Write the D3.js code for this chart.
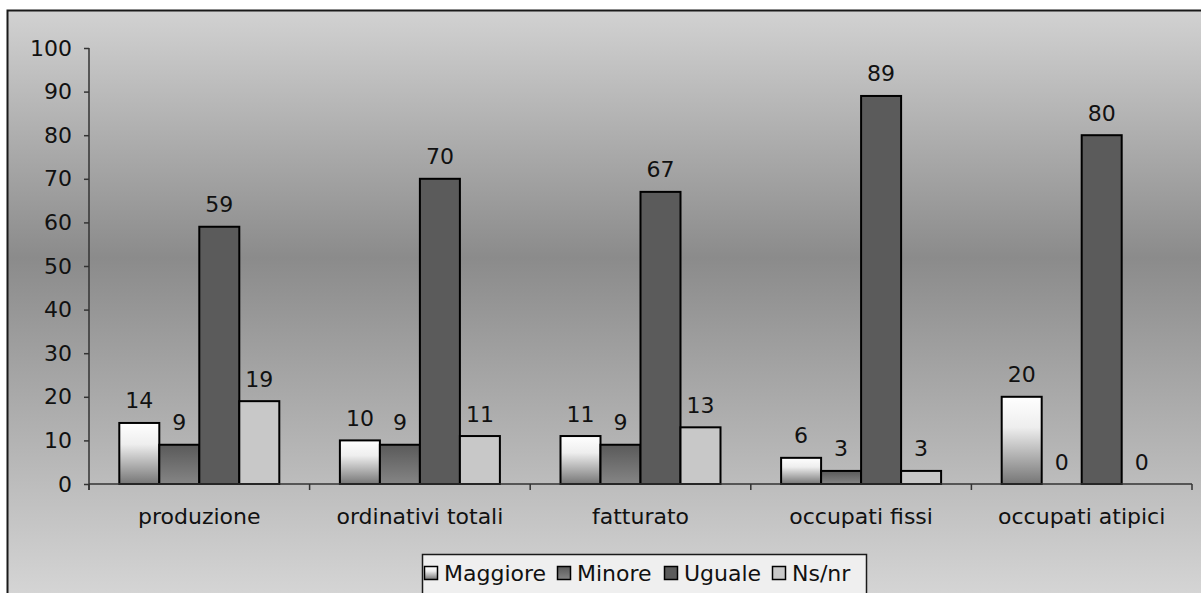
<!DOCTYPE html>
<html>
<head>
<meta charset="utf-8">
<script src="https://cdn.jsdelivr.net/npm/d3@7"></script>
<style>
  html, body { margin: 0; padding: 0; background: #ffffff; }
  svg { display: block; }
  text { font-family: "DejaVu Sans", Verdana, sans-serif; fill: #111; }
</style>
</head>
<body>
<svg id="chart" width="1201" height="593"></svg>
<script>
// Chart data
const categories = ["produzione", "ordinativi totali", "fatturato", "occupati fissi", "occupati atipici"];
const seriesNames = ["Maggiore", "Minore", "Uguale", "Ns/nr"];
const maggiore = [14, 10, 11, 6, 20];
const minore   = [9, 9, 9, 3, 0];
const uguale   = [59, 70, 67, 89, 80];
const nsnr     = [19, 11, 13, 3, 0];
const yTicks   = [0, 10, 20, 30, 40, 50, 60, 70, 80, 90, 100];

const seriesValues = [maggiore, minore, uguale, nsnr];

const plot = { left: 89, right: 1192, top: 48, bottom: 484 };
const FONT = 22;

const svg = d3.select("#chart");
const defs = svg.append("defs");

// Chart area background: light at the edges, darker band around the middle
const bg = defs.append("linearGradient")
  .attr("id", "bgGrad").attr("gradientUnits", "userSpaceOnUse")
  .attr("x1", 0).attr("y1", 10).attr("x2", 0).attr("y2", 600);
[[0, "#d2d2d2"], [0.42, "#8b8b8b"], [1, "#d6d6d6"]].forEach(([o, c]) =>
  bg.append("stop").attr("offset", o).attr("stop-color", c));

// Bar fills
const gMag = defs.append("linearGradient").attr("id", "gMag")
  .attr("x1", 0).attr("y1", 0).attr("x2", 0).attr("y2", 1);
[[0, "#ffffff"], [0.35, "#eeeeee"], [1, "#767676"]].forEach(([o, c]) =>
  gMag.append("stop").attr("offset", o).attr("stop-color", c));

const gMin = defs.append("linearGradient").attr("id", "gMin")
  .attr("x1", 0).attr("y1", 0).attr("x2", 0).attr("y2", 1);
[[0, "#5a5a5a"], [1, "#858585"]].forEach(([o, c]) =>
  gMin.append("stop").attr("offset", o).attr("stop-color", c));

const fills = ["url(#gMag)", "url(#gMin)", "#5b5b5b", "#c8c8c8"];

// Outer frame
svg.append("rect")
  .attr("x", 7.5).attr("y", 10.5)
  .attr("width", 1300).attr("height", 700)
  .attr("fill", "url(#bgGrad)")
  .attr("stroke", "#1a1a1a").attr("stroke-width", 2);

// Scales
const x0 = d3.scaleBand().domain(categories).range([plot.left, plot.right]).padding(0);
const groupPad = 30.3;
const x1 = d3.scaleBand().domain(seriesNames)
  .range([groupPad, x0.bandwidth() - groupPad]).padding(0);
const y = d3.scaleLinear().domain([0, 100]).range([plot.bottom, plot.top]);

// Bars
const rows = [];
categories.forEach((c, ci) => {
  seriesNames.forEach((s, si) => {
    rows.push({ cat: c, series: s, si, value: seriesValues[si][ci] });
  });
});

const barG = svg.append("g");
barG.selectAll("rect")
  .data(rows.filter(d => d.value > 0))
  .join("rect")
  .attr("x", d => x0(d.cat) + x1(d.series))
  .attr("y", d => y(d.value))
  .attr("width", x1.bandwidth())
  .attr("height", d => y(0) - y(d.value))
  .attr("fill", d => fills[d.si])
  .attr("stroke", "#000")
  .attr("stroke-width", 2);

// Value labels
svg.append("g").selectAll("text")
  .data(rows)
  .join("text")
  .attr("x", d => x0(d.cat) + x1(d.series) + x1.bandwidth() / 2)
  .attr("y", d => y(d.value) - 22)
  .attr("text-anchor", "middle")
  .attr("dominant-baseline", "central")
  .style("font-size", FONT + "px")
  .text(d => d.value);

// Y axis
const yAxis = d3.axisLeft(y).tickValues(yTicks).tickSize(5).tickPadding(12).tickSizeOuter(0);
const yg = svg.append("g").attr("transform", `translate(${plot.left},0)`).call(yAxis);
yg.select(".domain").attr("stroke", "#333").attr("stroke-width", 1.5)
  .attr("d", `M0,${plot.top}V${plot.bottom + 6}`);
yg.selectAll(".tick line").attr("stroke", "#333").attr("stroke-width", 1.5);
yg.selectAll(".tick text").style("font-size", FONT + "px").attr("fill", "#111")
  .style("font-family", '"DejaVu Sans", Verdana, sans-serif');

// X axis with category separators
const xg = svg.append("g");
xg.append("line")
  .attr("x1", plot.left).attr("x2", plot.right)
  .attr("y1", plot.bottom).attr("y2", plot.bottom)
  .attr("stroke", "#333").attr("stroke-width", 1.5);
const bounds = categories.map(c => x0(c)).concat([plot.right]);
xg.selectAll("line.sep").data(bounds).join("line")
  .attr("class", "sep")
  .attr("x1", d => d).attr("x2", d => d)
  .attr("y1", plot.bottom).attr("y2", plot.bottom + 6)
  .attr("stroke", "#333").attr("stroke-width", 1.5);
xg.selectAll("text").data(categories).join("text")
  .attr("x", d => x0(d) + x0.bandwidth() / 2)
  .attr("y", 516)
  .attr("text-anchor", "middle")
  .attr("dominant-baseline", "central")
  .style("font-size", FONT + "px")
  .text(d => d);

// Legend
const legend = svg.append("g");
legend.append("rect")
  .attr("x", 422.5).attr("y", 554.5)
  .attr("width", 444).attr("height", 60)
  .attr("fill", "#efefef")
  .attr("stroke", "#1a1a1a").attr("stroke-width", 1.5);
const keyX = [424, 557, 664, 772];
const legItems = legend.selectAll("g.item").data(seriesNames).join("g")
  .attr("class", "item")
  .attr("transform", (d, i) => `translate(${keyX[i]},0)`);
legItems.append("rect")
  .attr("x", 0.5).attr("y", 566.5).attr("width", 13).attr("height", 13)
  .attr("fill", (d, i) => fills[i])
  .attr("stroke", "#000").attr("stroke-width", 1.5);
legItems.append("text")
  .attr("x", 20).attr("y", 573)
  .attr("dominant-baseline", "central")
  .style("font-size", FONT + "px")
  .text(d => d);
</script>
</body>
</html>
